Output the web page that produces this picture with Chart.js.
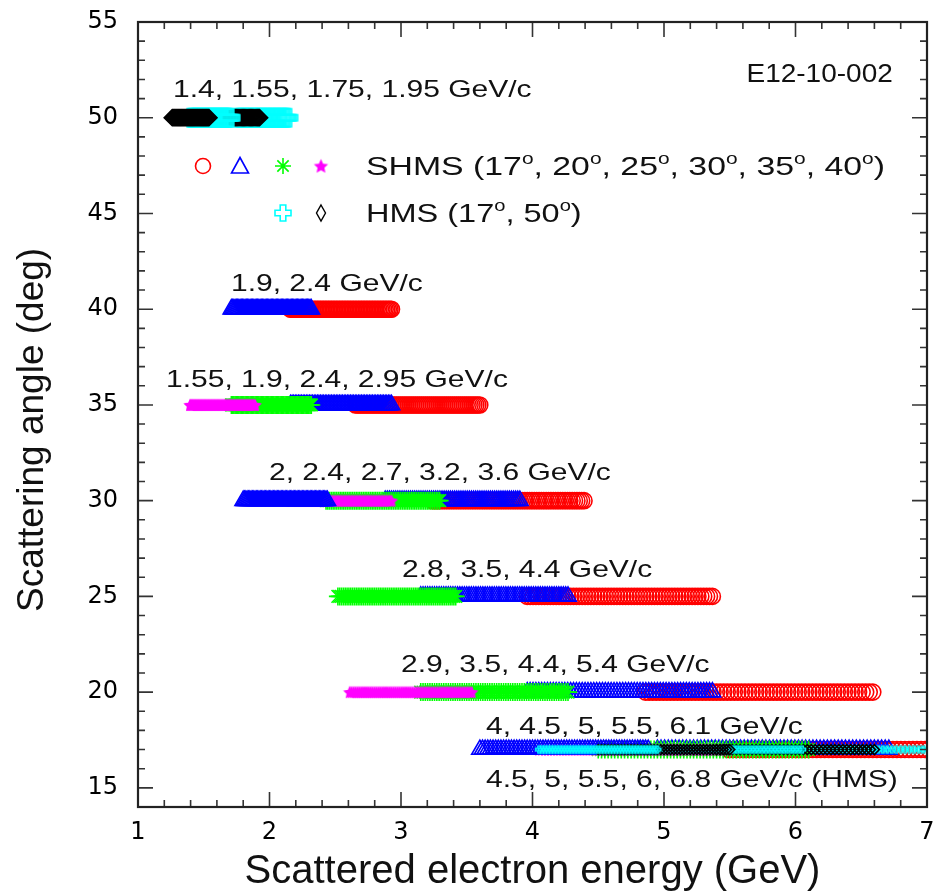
<!DOCTYPE html>
<html>
<head>
<meta charset="utf-8">
<script src="https://cdn.jsdelivr.net/npm/chart.js@4/dist/chart.umd.min.js"></script>
<style>
  html, body { margin: 0; padding: 0; background: #fff; }
  #wrap { width: 937px; height: 896px; }
</style>
</head>
<body>
<div id="wrap"><canvas id="chart"></canvas></div>
<script>
// momentum acceptance sample points (% offset from central momentum)
const deltaSHMS = [-10,-9.5,-9,-8.5,-8,-7.5,-7,-6.5,-6,-5.5,-5,-4.5,-4,-3.5,-3,-2.5,-2,-1.5,-1,-0.5,
  0,0.5,1,1.5,2,2.5,3,3.5,4,4.5,5,5.5,6,6.5,7,7.5,8,8.5,9,9.5,10,10.5,11,11.5,12,12.5,13,13.5,14,14.5,
  15,15.5,16,16.5,17,17.5,18,18.5,19,19.5,20,20.5,21,21.5,22];
const deltaHMS = [-10,-9.5,-9,-8.5,-8,-7.5,-7,-6.5,-6,-5.5,-5,-4.5,-4,-3.5,-3,-2.5,-2,-1.5,-1,-0.5,
  0,0.5,1,1.5,2,2.5,3,3.5,4,4.5,5,5.5,6,6.5,7,7.5,8,8.5,9,9.5,10];

// central momentum settings (GeV/c) for each spectrometer angle
const shmsAngles = [40, 35, 30, 25, 20, 17];
const shms40 = [1.9, 2.4];
const shms35 = [1.55, 1.9, 2.4, 2.95];
const shms30 = [2, 2.4, 2.7, 3.2, 3.6];
const shms25 = [2.8, 3.5, 4.4];
const shms20 = [2.9, 3.5, 4.4, 5.4];
const shms17 = [4, 4.5, 5, 5.5, 6.1];
const hmsAngles = [50, 17];
const hms50 = [1.4, 1.55, 1.75, 1.95];
const hms17 = [4.5, 5, 5.5, 6, 6.8];

const xTicks = [1, 2, 3, 4, 5, 6, 7];
const yTicks = [15, 20, 25, 30, 35, 40, 45, 50, 55];

const settingLabels = [
  '1.4, 1.55, 1.75, 1.95 GeV/c',
  '1.9, 2.4 GeV/c',
  '1.55, 1.9, 2.4, 2.95 GeV/c',
  '2, 2.4, 2.7, 3.2, 3.6 GeV/c',
  '2.8, 3.5, 4.4 GeV/c',
  '2.9, 3.5, 4.4, 5.4 GeV/c',
  '4, 4.5, 5, 5.5, 6.1 GeV/c',
  '4.5, 5, 5.5, 6, 6.8 GeV/c (HMS)'
];

// where the labels sit (data coords: left edge x, text centre y)
const labelPos = [
  [1.266, 51.55], [1.707, 41.42], [1.213, 36.41], [1.996, 31.55],
  [3.008, 26.48], [3.0, 21.52], [3.646, 18.28], [3.646, 15.51]
];

// ---- marker images ----
function starImage(r, color) {
  const s = Math.ceil(r * 2 + 2);
  const c = document.createElement('canvas');
  c.width = c.height = s;
  const g = c.getContext('2d');
  g.fillStyle = color;
  g.beginPath();
  for (let k = 0; k < 10; k++) {
    const a = -Math.PI / 2 + k * Math.PI / 5;
    const rr = k % 2 ? r * 0.48 : r;
    const px = s / 2 + Math.cos(a) * rr, py = s / 2 + 0.6 + Math.sin(a) * rr;
    k ? g.lineTo(px, py) : g.moveTo(px, py);
  }
  g.closePath();
  g.fill();
  return c;
}

function plusImage(half, arm, color, lw) {
  const s = Math.ceil(half * 2 + lw * 2 + 2);
  const c = document.createElement('canvas');
  c.width = c.height = s;
  const g = c.getContext('2d');
  const m = s / 2;
  g.strokeStyle = color;
  g.lineWidth = lw;
  const pts = [[-arm,-half],[arm,-half],[arm,-arm],[half,-arm],[half,arm],[arm,arm],
               [arm,half],[-arm,half],[-arm,arm],[-half,arm],[-half,-arm],[-arm,-arm]];
  g.beginPath();
  pts.forEach(([x, y], i) => i ? g.lineTo(m + x, m + y) : g.moveTo(m + x, m + y));
  g.closePath();
  g.stroke();
  return c;
}

const magentaStar = starImage(7, '#ff00ff');
const cyanPlusBig = plusImage(9, 3, '#00ffff', 1.6);
const cyanPlusSmall = plusImage(3.5, 1.2, '#00ffff', 1.4);

// highest momentum first: red circle, blue triangle, green asterisk, magenta star, blue triangle
const shmsCycle = [
  { color: '#ff0000', style: 'circle', r: 8 },
  { color: '#0000ff', style: 'triangle', r: 9.5 },
  { color: '#00ff00', style: 'star', r: 9 },
  { color: '#ff00ff', style: magentaStar, r: 7 },
  { color: '#0000ff', style: 'triangle', r: 9.5 }
];

function pointSet(p, angle, delta, st) {
  return {
    data: delta.map(d => ({ x: p * (1 + d / 100), y: angle })),
    pointStyle: st.style,
    pointRadius: st.r,
    pointHoverRadius: st.r,
    pointBorderColor: st.color,
    pointBackgroundColor: 'rgba(0,0,0,0)',
    pointBorderWidth: 1.6,
    showLine: false,
    clip: 0
  };
}

function shmsSets(angle, settings) {
  const n = settings.length;
  return settings.map((p, i) => pointSet(p, angle, deltaSHMS, shmsCycle[n - 1 - i]));
}

function hmsSets(angle, settings, small) {
  const n = settings.length;
  return settings.map((p, i) => {
    const cyan = (n - 1 - i) % 2 === 0;
    const st = cyan
      ? { color: '#00ffff', style: small ? cyanPlusSmall : cyanPlusBig, r: small ? 4 : 9 }
      : { color: '#000000', style: 'rectRot', r: small ? 5 : 8 };
    return pointSet(p, angle, deltaHMS, st);
  });
}

// index 0 is painted last (on top): HMS over SHMS, lower momentum over higher
const datasets = [
  ...hmsSets(hmsAngles[1], hms17, true),
  ...hmsSets(hmsAngles[0], hms50, false),
  ...shmsSets(shmsAngles[0], shms40),
  ...shmsSets(shmsAngles[1], shms35),
  ...shmsSets(shmsAngles[2], shms30),
  ...shmsSets(shmsAngles[3], shms25),
  ...shmsSets(shmsAngles[4], shms20),
  ...shmsSets(shmsAngles[5], shms17)
];

// text drawn a little wider than the font, like the original figure
function drawRich(ctx, segs, x, yCenter, size, sx, align) {
  ctx.save();
  ctx.fillStyle = '#111';
  ctx.textBaseline = 'alphabetic';
  ctx.textAlign = 'left';
  let w = 0;
  const widths = segs.map(([t, sup]) => {
    ctx.font = (sup ? size * 0.62 : size) + 'px "Liberation Sans", Arial, sans-serif';
    const m = ctx.measureText(t).width;
    w += m;
    return m;
  });
  const x0 = align === 'right' ? x - w * sx : x;
  const base = yCenter + size * 0.36;
  ctx.translate(x0, base);
  ctx.scale(sx, 1);
  let cx = 0;
  segs.forEach(([t, sup], i) => {
    ctx.font = (sup ? size * 0.62 : size) + 'px "Liberation Sans", Arial, sans-serif';
    ctx.fillText(t, cx, sup ? -size * 0.42 : 0);
    cx += widths[i];
  });
  ctx.restore();
}

const framePlugin = {
  id: 'frame',
  afterDatasetsDraw(chart) {
    const { ctx, chartArea: a, scales: { x, y } } = chart;
    ctx.save();
    ctx.strokeStyle = '#333';
    ctx.lineWidth = 1.6;
    ctx.beginPath();
    // x ticks (major + 4 minor between)
    for (let i = 0; i < xTicks.length; i++) {
      const px = x.getPixelForValue(xTicks[i]);
      ctx.moveTo(px, a.bottom); ctx.lineTo(px, a.bottom - 15);
      ctx.moveTo(px, a.top); ctx.lineTo(px, a.top + 15);
      if (i < xTicks.length - 1) {
        for (let k = 1; k < 5; k++) {
          const v = xTicks[i] + (xTicks[i + 1] - xTicks[i]) * k / 5;
          const q = x.getPixelForValue(v);
          ctx.moveTo(q, a.bottom); ctx.lineTo(q, a.bottom - 7);
          ctx.moveTo(q, a.top); ctx.lineTo(q, a.top + 7);
        }
      }
    }
    // y ticks (major every 5, minor every 1)
    for (let v = Math.ceil(y.min); v <= y.max; v++) {
      const py = y.getPixelForValue(v);
      const len = yTicks.includes(v) ? 15 : 7;
      ctx.moveTo(a.left, py); ctx.lineTo(a.left + len, py);
      ctx.moveTo(a.right, py); ctx.lineTo(a.right - len, py);
    }
    ctx.stroke();
    ctx.lineWidth = 2.2;
    ctx.strokeStyle = '#222';
    ctx.strokeRect(a.left, a.top, a.right - a.left, a.bottom - a.top);
    ctx.restore();
  },
  afterDraw(chart) {
    const { ctx, chartArea: a, scales: { x, y } } = chart;
    settingLabels.forEach((t, i) => {
      drawRich(ctx, [[t]], x.getPixelForValue(labelPos[i][0]), y.getPixelForValue(labelPos[i][1]), 24, 1.25, 'left');
    });
    drawRich(ctx, [['E12-10-002']], x.getPixelForValue(6.74), y.getPixelForValue(52.34), 25, 1.12, 'right');

    // legend block
    const r1 = a.top + 144, r2 = a.top + 191, tx = a.left + 228;
    drawRich(ctx, [['SHMS (17'], ['o', 1], [', 20'], ['o', 1], [', 25'], ['o', 1], [', 30'], ['o', 1],
      [', 35'], ['o', 1], [', 40'], ['o', 1], [')']], tx, r1, 26, 1.3, 'left');
    drawRich(ctx, [['HMS (17'], ['o', 1], [', 50'], ['o', 1], [')']], tx, r2, 26, 1.25, 'left');

    ctx.save();
    ctx.lineWidth = 1.6;
    // red circle
    let cx = a.left + 65;
    ctx.strokeStyle = '#ff0000';
    ctx.beginPath(); ctx.arc(cx, r1, 7.5, 0, Math.PI * 2); ctx.stroke();
    // blue triangle
    cx = a.left + 102;
    ctx.strokeStyle = '#0000ff';
    ctx.beginPath();
    ctx.moveTo(cx, r1 - 8.5); ctx.lineTo(cx + 8.5, r1 + 7); ctx.lineTo(cx - 8.5, r1 + 7); ctx.closePath();
    ctx.stroke();
    // green asterisk
    cx = a.left + 145;
    ctx.strokeStyle = '#00ff00';
    ctx.beginPath();
    for (let k = 0; k < 4; k++) {
      const ang = k * Math.PI / 4;
      ctx.moveTo(cx - Math.cos(ang) * 8, r1 - Math.sin(ang) * 8);
      ctx.lineTo(cx + Math.cos(ang) * 8, r1 + Math.sin(ang) * 8);
    }
    ctx.stroke();
    // magenta star
    cx = a.left + 183;
    const big = starImage(7.5, '#ff00ff');
    ctx.drawImage(big, cx - big.width / 2, r1 - big.height / 2);
    // cyan plus
    cx = a.left + 145;
    const pl = plusImage(8, 2.8, '#00ffff', 1.6);
    ctx.drawImage(pl, cx - pl.width / 2, r2 - pl.height / 2);
    // black diamond
    cx = a.left + 183;
    ctx.strokeStyle = '#000';
    ctx.lineWidth = 1.4;
    ctx.beginPath();
    ctx.moveTo(cx, r2 - 8); ctx.lineTo(cx + 4.5, r2); ctx.lineTo(cx, r2 + 8); ctx.lineTo(cx - 4.5, r2); ctx.closePath();
    ctx.stroke();
    ctx.restore();
  }
};

new Chart(document.getElementById('chart'), {
  type: 'scatter',
  data: { datasets },
  options: {
    responsive: true,
    maintainAspectRatio: false,
    animation: false,
    events: [],
    devicePixelRatio: 1,
    layout: { autoPadding: false, padding: { top: 22, right: 10, left: 0, bottom: 0 } },
    plugins: { legend: { display: false }, tooltip: { enabled: false } },
    scales: {
      x: {
        type: 'linear',
        min: 1,
        max: 7,
        afterBuildTicks: s => { s.ticks = xTicks.map(v => ({ value: v })); },
        afterFit: s => { s.height = 89; s.paddingLeft = 0; s.paddingRight = 0; },
        grid: { display: false, drawTicks: false },
        border: { display: false },
        ticks: { font: { family: 'DejaVu Sans', size: 24 }, color: '#000', padding: 11, maxRotation: 0, autoSkip: false },
        title: {
          display: true,
          text: 'Scattered electron energy (GeV)',
          font: { family: 'Liberation Sans', size: 40 },
          color: '#111',
          padding: { top: 0, bottom: 0 }
        }
      },
      y: {
        type: 'linear',
        min: 14,
        max: 55,
        afterBuildTicks: s => { s.ticks = yTicks.map(v => ({ value: v })); },
        afterFit: s => { s.width = 138; s.paddingTop = 0; s.paddingBottom = 0; },
        grid: { display: false, drawTicks: false },
        border: { display: false },
        ticks: { font: { family: 'DejaVu Sans', size: 24 }, color: '#000', padding: 20, autoSkip: false },
        title: {
          display: true,
          text: 'Scattering angle (deg)   ',
          font: { family: 'Liberation Sans', size: 37 },
          color: '#111',
          padding: { top: 11, bottom: 0 }
        }
      }
    }
  },
  plugins: [framePlugin]
});
</script>
</body>
</html>
